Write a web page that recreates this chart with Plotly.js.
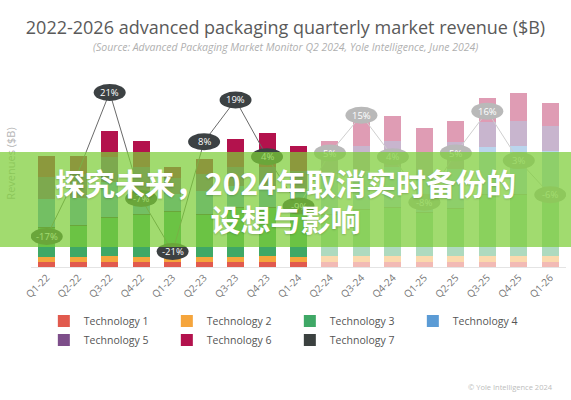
<!DOCTYPE html>
<html>
<head>
<meta charset="utf-8">
<script src="https://cdn.plot.ly/plotly-3.0.1.min.js"></script>
<style>
  html, body { margin: 0; padding: 0; background: #ffffff; }
  #wrap { position: relative; width: 571px; height: 400px; overflow: hidden; }
  #chart { width: 571px; height: 400px; }
  #banner {
    position: absolute; left: 0; top: 152px; width: 571px; height: 95px;
    background: rgba(125, 205, 55, 0.72);
    display: flex; flex-direction: column; align-items: center; justify-content: center;
    font-family: "Noto Sans CJK SC", sans-serif; font-weight: 700; font-size: 30px;
    line-height: 36px; color: #ffffff; text-shadow: 0 1px 2px rgba(0,0,0,0.18);
    pointer-events: none;
  }
</style>
</head>
<body>
<div id="wrap">
  <div id="chart"></div>
  <div id="banner"><div>探究未来，2024年取消实时备份的</div><div>设想与影响</div></div>
</div>
<script>
// ---- data ($B per quarter) ----
const categories = ['Q1-22','Q2-22','Q3-22','Q4-22','Q1-23','Q2-23','Q3-23','Q4-23','Q1-24',
                    'Q2-24','Q3-24','Q4-24','Q1-25','Q2-25','Q3-25','Q4-25','Q1-26'];
const tech1 = [0.42,0.42,0.42,0.42,0.42,0.42,0.42,0.42,0.42,0.42,0.42,0.42,0.42,0.42,0.42,0.42,0.42];
const tech2 = [0.42,0.42,0.5,0.42,0.33,0.42,0.42,0.5,0.42,0.5,0.5,0.5,0.5,0.5,0.5,0.5,0.5];
const tech3 = [2.42,2.58,3.17,3.5,3.83,3.5,4.08,4.0,3.92,3.42,3.83,4.0,3.58,3.92,5.08,5.08,4.92];
const tech7 = [0.05,0.05,0.05,0.05,0.05,0.05,0.05,0.05,0.05,0.05,0.05,0.05,0.05,0.05,0.05,0.05,0.05];
const tech4 = [2.33,2.25,2.92,1.92,1.42,1.92,1.75,1.67,1.67,3.33,3.17,3.33,2.92,3.25,3.92,4.0,3.75];
const tech5 = [1.83,2.0,2.08,2.0,1.33,1.42,1.58,1.67,1.5,2.33,2.08,2.17,2.08,2.25,2.08,2.08,2.08];
const tech6 = [1.75,1.5,2.17,2.17,0.92,1.25,2.33,2.83,2.08,0.42,2.08,2.08,2.0,1.75,2.0,2.33,1.92];
// QoQ growth (%); null label where the picture shows no bubble
const growth = [-17,0,21,-7,-21,8,19,4,-9,5,15,4,-8,5,16,3,-6];
const growthLabels = ['-17%',null,'21%','-7%','-21%','8%','19%','4%','-9%','5%','15%','4%','-8%','5%','16%','3%','-6%'];
const techNames = ['Technology 1','Technology 2','Technology 3','Technology 4','Technology 5','Technology 6','Technology 7'];
const firstForecast = 'Q2-24';
const titleText = '2022-2026 advanced packaging quarterly market revenue ($B)';
const subtitleText = '(Source: Advanced Packaging Market Monitor Q2 2024, Yole Intelligence, June 2024)';

// ---- styling ----
const techColors = ['#e15a4e','#f5a53c','#3fa866','#5b9bd5','#7d4e8a','#b3124d','#3b4140'];
const fcIdx = categories.indexOf(firstForecast);
function rgba(hex, a) {
  const n = parseInt(hex.slice(1), 16);
  return 'rgba(' + ((n >> 16) & 255) + ',' + ((n >> 8) & 255) + ',' + (n & 255) + ',' + a + ')';
}
function barColors(hex) {
  return categories.map((c, i) => i >= fcIdx ? rgba(hex, 0.42) : hex);
}
// stacking order bottom->top; legend order via legendrank
const stack = [
  {vals: tech1, k: 0}, {vals: tech2, k: 1}, {vals: tech3, k: 2}, {vals: tech7, k: 6},
  {vals: tech4, k: 3}, {vals: tech5, k: 4}, {vals: tech6, k: 5}
];
const traces = stack.map(s => ({
  type: 'bar', x: categories, y: s.vals, name: techNames[s.k], legendrank: s.k + 1,
  marker: {color: barColors(techColors[s.k]), line: {width: 0}},
  hoverinfo: 'skip'
}));
traces.push({type: 'scatter', mode: 'lines', x: categories.slice(0, fcIdx), y: growth.slice(0, fcIdx),
  yaxis: 'y2', line: {color: '#6a6a6a', width: 1}, showlegend: false, hoverinfo: 'skip'});
traces.push({type: 'scatter', mode: 'lines', x: categories.slice(fcIdx - 1), y: growth.slice(fcIdx - 1),
  yaxis: 'y2', line: {color: '#cfcfcf', width: 1}, showlegend: false, hoverinfo: 'skip'});

const shapes = [];
const annotations = [];
growth.forEach((g, i) => {
  if (growthLabels[i] === null) return;
  shapes.push({
    type: 'circle', xref: 'x', yref: 'y2', xsizemode: 'pixel', ysizemode: 'pixel',
    xanchor: i, yanchor: g, x0: -16, x1: 16, y0: -8.5, y1: 8.5,
    fillcolor: i >= fcIdx ? '#b9b9b9' : '#3c4143', line: {width: 0}, layer: 'above'
  });
  annotations.push({
    x: categories[i], y: g, yref: 'y2', xref: 'x', text: growthLabels[i], showarrow: false,
    font: {family: 'Open Sans, sans-serif', size: 9.5, color: '#ffffff'}
  });
});
annotations.push({
  xref: 'paper', yref: 'paper', x: 0.979, y: -0.58, xanchor: 'right', yanchor: 'middle',
  text: '© Yole Intelligence 2024', showarrow: false,
  font: {family: 'Open Sans, sans-serif', size: 7.5, color: '#bdbdbd'}
});
annotations.push({
  xref: 'paper', yref: 'paper', x: (285.5 - 31) / 535, y: 1.063, xanchor: 'center', yanchor: 'middle',
  text: '<i>' + subtitleText + '</i>', showarrow: false,
  font: {family: 'Open Sans, sans-serif', size: 10.5, color: '#b0b0b0'}
});

const layout = {
  width: 571, height: 400,
  margin: {l: 31, r: 5, t: 60, b: 133},
  paper_bgcolor: '#ffffff', plot_bgcolor: '#ffffff',
  font: {family: 'Open Sans, sans-serif', color: '#666666'},
  barmode: 'stack', bargap: 0.46,
  title: {
    text: titleText,
    font: {family: 'Open Sans, sans-serif', size: 18, color: '#5a5a5a'},
    x: 0.5, xref: 'container', xanchor: 'center',
    y: 0.93, yref: 'container', yanchor: 'middle'
  },
  xaxis: {
    type: 'category', range: [-0.5, 16.5], tickangle: -45, showgrid: false, zeroline: false,
    showline: true, linecolor: '#e4e4e4', linewidth: 1, ticks: '',
    tickfont: {size: 10, color: '#777777'}
  },
  yaxis: {
    range: [0, 17.25], showgrid: false, zeroline: false, showticklabels: false, ticks: '',
    title: {text: 'Revenues ($B)', font: {size: 11, color: '#b5b5b5'}, standoff: 12}
  },
  yaxis2: {range: [-25.07, 29.55], overlaying: 'y', visible: false},
  showlegend: true,
  legend: {
    orientation: 'h', x: 0.024, xanchor: 'left', y: -0.191, yanchor: 'top',
    entrywidth: 78, entrywidthmode: 'pixels', traceorder: 'normal',
    font: {size: 10.5, color: '#555555'}, bgcolor: 'rgba(0,0,0,0)'
  },
  shapes: shapes,
  annotations: annotations
};
Plotly.newPlot('chart', traces, layout, {displayModeBar: false, staticPlot: true});
</script>
</body>
</html>
